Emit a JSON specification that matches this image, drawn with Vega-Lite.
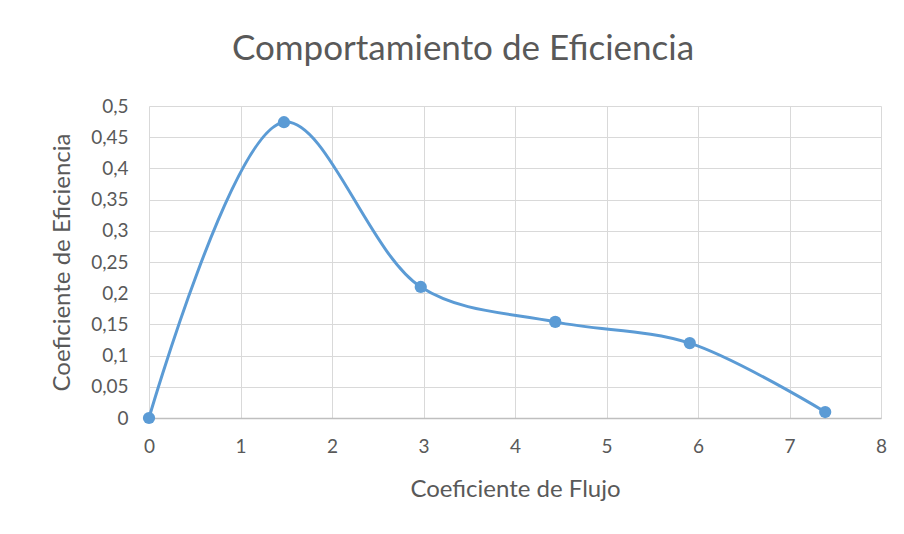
{
  "$schema": "https://vega.github.io/schema/vega-lite/v6.json",
  "autosize": "none",
  "width": 732,
  "height": 312,
  "padding": {"left": 149, "top": 106, "right": 23, "bottom": 116},
  "background": "white",
  "title": {
    "text": "Comportamiento de Eficiencia",
    "font": "Lato",
    "fontSize": 35,
    "fontWeight": "normal",
    "color": "#595959",
    "anchor": "middle",
    "dx": -52,
    "offset": 30
  },
  "config": {
    "view": {"stroke": null},
    "axis": {
      "labelFont": "Lato",
      "titleFont": "Lato",
      "labelColor": "#595959",
      "titleColor": "#595959",
      "labelFontSize": 19,
      "labelFontWeight": "normal",
      "titleFontSize": 24,
      "titleFontWeight": "normal",
      "gridColor": "#d9d9d9",
      "gridWidth": 1,
      "ticks": false
    }
  },
  "data": {
    "values": [
      {"flujo": 0, "eficiencia": 0},
      {"flujo": 1.475, "eficiencia": 0.474},
      {"flujo": 2.97, "eficiencia": 0.21},
      {"flujo": 4.44, "eficiencia": 0.154},
      {"flujo": 5.91, "eficiencia": 0.12},
      {"flujo": 7.39, "eficiencia": 0.0096}
    ]
  },
  "encoding": {
    "x": {
      "field": "flujo",
      "type": "quantitative",
      "scale": {"domain": [0, 8], "nice": false},
      "axis": {
        "title": "Coeficiente de Flujo",
        "values": [0, 1, 2, 3, 4, 5, 6, 7, 8],
        "labelFlush": false,
        "labelPadding": 19,
        "titlePadding": 21,
        "domainColor": "#bfbfbf",
        "domainWidth": 1.5
      }
    },
    "y": {
      "field": "eficiencia",
      "type": "quantitative",
      "scale": {"domain": [0, 0.5], "nice": false},
      "axis": {
        "title": "Coeficiente de Eficiencia",
        "values": [0, 0.05, 0.1, 0.15, 0.2, 0.25, 0.3, 0.35, 0.4, 0.45, 0.5],
        "labelExpr": "replace(format(datum.value, ''), '.', ',')",
        "labelFlush": false,
        "labelPadding": 21,
        "titlePadding": 16,
        "domain": false
      }
    }
  },
  "layer": [
    {
      "mark": {"type": "line", "interpolate": "catmull-rom", "color": "#5b9bd5", "strokeWidth": 3}
    },
    {
      "mark": {"type": "point", "filled": true, "color": "#5b9bd5", "opacity": 1, "size": 150}
    }
  ]
}
